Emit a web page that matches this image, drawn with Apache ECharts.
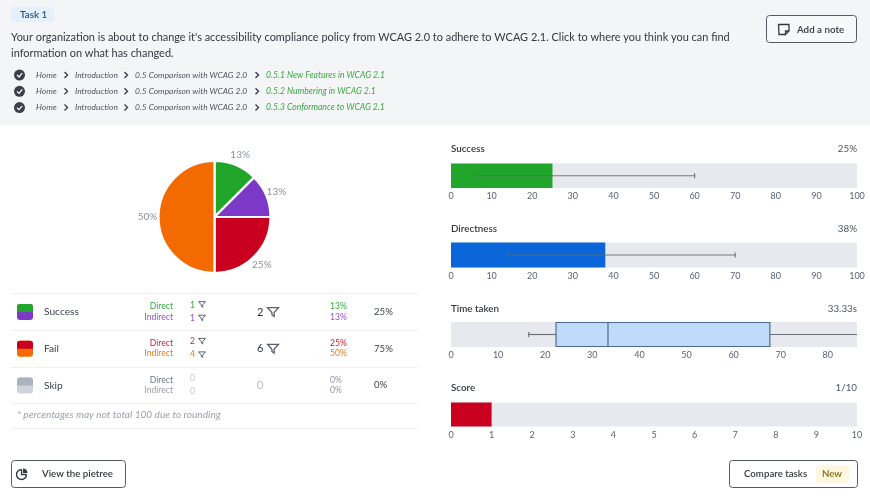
<!DOCTYPE html>
<html lang="en">
<head>
    <meta charset="UTF-8">
    <title>Task 1</title>
    <style>
        html,body{margin:0;padding:0;background:#fff;}
        #mychart{width:870px;height:498px;}
    </style>
</head>
<body>
    <div id="mychart"></div>
    <script src="https://cdn.jsdelivr.net/npm/echarts@6/dist/echarts.min.js"></script>
    <script>
        var taskName='Task 1'
        var questionLines=[
            "Your organization is about to change it's accessibility compliance policy from WCAG 2.0 to adhere to WCAG 2.1. Click to where you think you can find",
            'information on what has changed.'
        ]
        var crumbs=['Home','Introduction','0.5 Comparison with WCAG 2.0']
        var crumbTargets=['0.5.1 New Features in WCAG 2.1','0.5.2 Numbering in WCAG 2.1','0.5.3 Conformance to WCAG 2.1']

        // pie
        var pieNames=['Success direct','Success indirect','Fail direct','Fail indirect']
        var pieValues=[1,1,2,4]
        var pieLabels=['13%','13%','25%','50%']
        var pieColors=['#22a52b','#7c38c6','#c9001f','#f26a00']

        // table
        var rowNames=['Success','Fail','Skip']
        var directCounts=[1,2,0]
        var indirectCounts=[1,4,0]
        var rowTotals=[2,6,0]
        var directPct=['13%','25%','0%']
        var indirectPct=['13%','50%','0%']
        var rowPct=['25%','75%','0%']

        // right side charts
        var successValue=25
        var successWhisker=[6,60]
        var directnessValue=38
        var directnessWhisker=[14,70]
        var timeBox=[16.5,22.3,33.33,67.7,86.2]//min q1 median q3 max
        var scoreValue=1

        var FONT='Lato'
        var dark='#2f3440'
        var g=[]

        function text(x,y,str,color,size,extra){
            var st={x:x,y:y,text:String(str),fill:color,font:(extra&&extra.font||'')+' '+size+'px '+FONT,
                textAlign:extra&&extra.align||'left',textVerticalAlign:'middle'}
            g.push({type:'text',style:st})
        }
        function line(x1,x2,y,color){
            g.push({type:'line',shape:{x1:x1,y1:y,x2:x2,y2:y},style:{stroke:color,lineWidth:1}})
        }
        function rect(x,y,w,h,r,fill,stroke){
            g.push({type:'rect',shape:{x:x,y:y,width:w,height:h,r:r},style:{fill:fill,stroke:stroke||null,lineWidth:1}})
        }
        function chevron(x,y){
            g.push({type:'polyline',shape:{points:[[x-1.5,y-3],[x+1.5,y],[x-1.5,y+3]]},style:{stroke:'#3a3f4a',lineWidth:1.4,fill:null}})
        }
        function funnel(x,y,s,color){//x,y is the centre
            g.push({type:'polygon',shape:{points:[[x-s,y-s*.8],[x+s,y-s*.8],[x+s*.2,y+.1*s],[x+s*.2,y+s*.8],[x-s*.2,y+s*.5],[x-s*.2,y+.1*s]]},
                style:{fill:null,stroke:color,lineWidth:s>4?1.3:1}})
        }

        // header
        rect(0,0,870,125,0,'#f4f5f7')
        rect(11,7,43,15,4,'#e4f0fb')
        text(20,15,taskName,'#27527f',9.8,{font:'600'})
        text(11,37,questionLines[0],'#33383f',10.95)
        text(11,53,questionLines[1],'#33383f',10.95)
        crumbTargets.forEach(function(target,i){
            var y=75+i*16.3
            g.push({type:'circle',shape:{cx:19.5,cy:y,r:5.5},style:{fill:'#3c3f47'}})
            g.push({type:'polyline',shape:{points:[[17,y],[19,y+2],[22.2,y-1.8]]},style:{stroke:'#fff',lineWidth:1.2,fill:null}})
            text(36,y,crumbs[0],'#4e5560',8.4,{font:'italic'})
            chevron(66,y)
            text(75,y,crumbs[1],'#4e5560',8.4,{font:'italic'})
            chevron(126,y)
            text(135,y,crumbs[2],'#4e5560',8.4,{font:'italic'})
            chevron(257,y)
            text(266,y,target,'#3aa842',8.6,{font:'italic'})
        })
        rect(766.5,15.5,90,27,3,'#f7f8f9','#555a63')
        g.push({type:'polyline',shape:{points:[[785.5,34.5],[779,34.5],[778.5,24.5],[789,24.5],[789,31],[785.5,34.5],[785.5,31],[789,31]]},
            style:{stroke:'#33383f',lineWidth:1.3,fill:null}})
        text(797,29.5,'Add a note','#33383f',9.8,{font:'600'})

        // table
        ;[293,330,367,403,428].forEach(function(y){line(11,418,y+.5,'#eef0f2')})
        var swatches=[['#22a52b','#7c38c6'],['#c9001f','#f26a00'],['#a9b2bd','#cdd4db']]
        var directCols=['#3aa842','#c9203a','#6d7685']
        var indirectCols=['#9252cf','#ec7a1c','#97a0ad']
        rowNames.forEach(function(name,i){
            var y=312+i*36.7
            rect(17,y-8,16,16,3,swatches[i][1])
            rect(17,y-8,16,8,[3,3,0,0],swatches[i][0])
            text(44,y,name,'#3d424b',10.2)
            text(173,y-5.5,'Direct',directCols[i],8.6,{align:'right'})
            text(173,y+5,'Indirect',indirectCols[i],8.6,{align:'right'})
            var has=rowTotals[i]>0
            text(190,y-7,directCounts[i],has?directCols[i]:'#c3c8cf',8.6)
            text(190,y+6,indirectCounts[i],has?indirectCols[i]:'#c3c8cf',8.6)
            if(has){
                funnel(202,y-7.5,3.5,'#5a6270')
                funnel(202,y+6,3.5,'#5a6270')
                funnel(273,y,5.5,'#5a6270')
            }
            text(257,y,rowTotals[i],has?dark:'#b5bbc4',11)
            text(330,y-5.5,directPct[i],has?directCols[i]:'#8d96a3',8.6)
            text(330,y+5,indirectPct[i],has?indirectCols[i]:'#8d96a3',8.6)
            text(374,y,rowPct[i],'#3d424b',9.6)
        })
        text(17,415,'* percentages may not total 100 due to rounding','#9aa2ae',10.1,{font:'italic'})

        // buttons
        rect(11.5,460.5,114,27,3,'#fff','#555a63')
        g.push({type:'arc',shape:{cx:21.5,cy:474.5,r:5,startAngle:0,endAngle:Math.PI*1.5},style:{stroke:'#33383f',lineWidth:1.4,fill:null}})
        g.push({type:'polyline',shape:{points:[[21.5,469.5],[21.5,474.5],[26.5,474.5]]},style:{stroke:'#33383f',lineWidth:1.4,fill:null}})
        g.push({type:'sector',shape:{cx:23,cy:473,r0:0,r:4.5,startAngle:Math.PI*1.5,endAngle:Math.PI*2},style:{fill:'#33383f'}})
        text(42,474,'View the pietree','#33383f',9.7,{font:'600'})
        rect(729.5,460.5,128,27,3,'#fff','#555a63')
        text(744,474,'Compare tasks','#33383f',9.7,{font:'600'})
        rect(816,465,33,18,4,'#fdf7df')
        text(832,474,'New','#86701a',9.7,{font:'600',align:'center'})

        // chart titles
        var titles=[['Success',successValue+'%',149],['Directness',directnessValue+'%',229],['Time taken','33.33s',309],['Score',scoreValue+'/10',388]]
        titles.forEach(function(t){
            text(451,t[2],t[0],'#33383f',9.8,{font:'600'})
            text(857,t[2],t[1],'#4e5560',9.8,{align:'right'})
        })

        function makeGrid(top,height){
            return {left:451,width:406,top:top,height:height,show:true,backgroundColor:'#e8e9ee',borderWidth:0}
        }
        function makeX(idx,max,interval){
            return {type:'value',gridIndex:idx,min:0,max:max,interval:interval,splitLine:{show:false},
                axisLine:{show:false},axisTick:{show:false},
                axisLabel:{color:'#5b6370',fontSize:9,fontFamily:FONT,margin:4,showMaxLabel:max%interval===0},
                position:'bottom'}
        }
        function makeY(idx){
            return {type:'category',gridIndex:idx,data:['v'],show:false}
        }
        function barSeries(idx,value,color){
            return {type:'bar',xAxisIndex:idx,yAxisIndex:idx,barWidth:'100%',data:[value],silent:true,
                itemStyle:{color:color}}
        }
        function whisker(idx,range){
            return {type:'custom',xAxisIndex:idx,yAxisIndex:idx,silent:true,z:5,data:[range],
                renderItem:function(params,api){
                    var a=api.coord([api.value(0),0])
                    var b=api.coord([api.value(1),0])
                    var style={stroke:'#5f6670',lineWidth:1.2,opacity:.85}
                    return {type:'group',children:[
                        {type:'line',shape:{x1:a[0],y1:a[1],x2:b[0],y2:b[1]},style:style},
                        {type:'line',shape:{x1:a[0],y1:a[1]-2.5,x2:a[0],y2:a[1]+2.5},style:style},
                        {type:'line',shape:{x1:b[0],y1:b[1]-2.5,x2:b[0],y2:b[1]+2.5},style:style}
                    ]}
                }}
        }
        function boxSeries(idx,box){
            return {type:'custom',xAxisIndex:idx,yAxisIndex:idx,silent:true,z:5,data:[box],
                renderItem:function(params,api){
                    var lo=api.coord([api.value(0),0])
                    var q1=api.coord([api.value(1),0])
                    var med=api.coord([api.value(2),0])
                    var q3=api.coord([api.value(3),0])
                    var hi=api.coord([api.value(4),0])
                    var h=api.size([0,1])[1]
                    var y=lo[1]
                    var stroke={stroke:'#4c6a8e',lineWidth:1.2}
                    var whisk={stroke:'#6b727c',lineWidth:1.2}
                    return {type:'group',children:[
                        {type:'line',shape:{x1:lo[0],y1:y,x2:q1[0],y2:y},style:whisk},
                        {type:'line',shape:{x1:q3[0],y1:y,x2:hi[0],y2:y},style:whisk},
                        {type:'line',shape:{x1:lo[0],y1:y-2.5,x2:lo[0],y2:y+2.5},style:whisk},
                        {type:'rect',shape:{x:q1[0],y:y-h/2+.5,width:q3[0]-q1[0],height:h-1},style:{fill:'#bfdbfa',stroke:'#4c6a8e',lineWidth:1.2}},
                        {type:'line',shape:{x1:med[0],y1:y-h/2,x2:med[0],y2:y+h/2},style:stroke}
                    ]}
                }}
        }

        var myChart=echarts.init(document.getElementById('mychart'))
        var option={
            animation:false,
            textStyle:{fontFamily:FONT},
            graphic:{elements:g},
            grid:[makeGrid(163.5,24.5),makeGrid(242.5,25),makeGrid(322,25),makeGrid(402.5,24)],
            xAxis:[makeX(0,100,10),makeX(1,100,10),makeX(2,timeBox[4],10),makeX(3,10,1)],
            yAxis:[makeY(0),makeY(1),makeY(2),makeY(3)],
            series:[
                {
                    type:'pie',
                    center:[214.5,217],
                    radius:[0,56],
                    startAngle:90,
                    clockwise:true,
                    silent:true,
                    data:pieValues.map(function(v,i){
                        return {name:pieNames[i],value:v,itemStyle:{color:pieColors[i],borderColor:'#ffffff',borderWidth:2.2,borderType:'solid'}}
                    }),
                    label:{show:false},
                    labelLine:{show:false}
                },
                {//transparent ring, only here so the labels sit centred around the pie
                    type:'pie',
                    center:[214.5,217],
                    radius:[58,70],
                    startAngle:90,
                    clockwise:true,
                    silent:true,
                    data:pieValues.map(function(v,i){return {name:pieNames[i],value:v}}),
                    itemStyle:{color:'rgba(0,0,0,0)',borderWidth:0},
                    label:{show:true,position:'inside',rotate:0,color:'#8b94a3',fontSize:10,fontFamily:FONT,
                        formatter:function(p){return pieLabels[p.dataIndex]}},
                    labelLine:{show:false}
                },
                barSeries(0,successValue,'#22a52b'),
                whisker(0,successWhisker),
                barSeries(1,directnessValue,'#0b66d9'),
                whisker(1,directnessWhisker),
                boxSeries(2,timeBox),
                barSeries(3,scoreValue,'#c9001f')
            ]
        }
        myChart.setOption(option)
    </script>
</body>
</html>
